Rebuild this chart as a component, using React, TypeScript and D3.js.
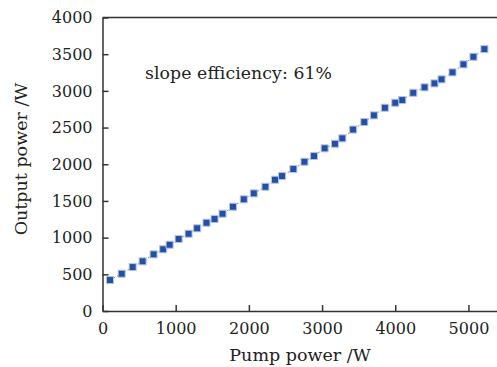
import { useEffect, useRef } from "react";
import * as d3 from "d3";

// Pump power (W) vs output power (W)
const pumpPower = [
  102, 262, 412, 548, 698, 829, 917, 1040, 1176, 1293, 1421, 1531, 1640, 1783,
  1930, 2067, 2226, 2357, 2453, 2608, 2759, 2890, 3035, 3176, 3277, 3424, 3577,
  3708, 3858, 4000, 4096, 4246, 4400, 4536, 4632, 4782, 4932, 5068, 5218,
];
const outputPower = [
  422, 508, 599, 677, 772, 841, 903, 981, 1053, 1127, 1203, 1253, 1326, 1421,
  1522, 1603, 1693, 1789, 1839, 1935, 2034, 2112, 2217, 2279, 2353, 2473, 2575,
  2666, 2770, 2838, 2875, 2974, 3048, 3102, 3157, 3252, 3361, 3465, 3569,
];
const xTicks = [0, 1000, 2000, 3000, 4000, 5000];
const yTicks = [0, 500, 1000, 1500, 2000, 2500, 3000, 3500, 4000];

const W = 497;
const H = 367;
const FONT = "'DejaVu Serif', serif";
const AXIS = "#333";

export default function App() {
  const svgRef = useRef<SVGSVGElement>(null);

  useEffect(() => {
    document.body.style.margin = "0";
    if (!svgRef.current) return;
    const svg = d3.select(svgRef.current);
    svg.selectAll("*").remove();

    const margin = { top: 17.5, right: 0, bottom: 56, left: 102.5 };
    const w = W - margin.left - margin.right;
    const h = H - margin.top - margin.bottom;

    const x = d3.scaleLinear().domain([0, 5390]).range([0, w]);
    const y = d3.scaleLinear().domain([0, 4000]).range([h, 0]);

    const g = svg.append("g").attr("transform", `translate(${margin.left},${margin.top})`);

    // ── Axes (ticks point inward) ──
    const styleAxis = (ag: d3.Selection<SVGGElement, unknown, null, undefined>) => {
      ag.select(".domain").attr("stroke", AXIS).attr("stroke-width", 1.5);
      ag.selectAll(".tick line").attr("stroke", AXIS).attr("stroke-width", 1.5);
      ag.selectAll(".tick text")
        .attr("fill", "#222")
        .attr("font-size", 16)
        .attr("font-family", FONT);
    };

    g.append("g")
      .attr("transform", `translate(0,${h})`)
      .call(
        d3.axisBottom(x).tickValues(xTicks).tickFormat(d3.format("d"))
          .tickSize(-6).tickSizeOuter(0).tickPadding(12)
      )
      .call(styleAxis);

    g.append("g")
      .call(
        d3.axisLeft(y).tickValues(yTicks).tickFormat(d3.format("d"))
          .tickSize(-6).tickSizeOuter(0).tickPadding(10)
      )
      .call(styleAxis);

    // top border
    g.append("line")
      .attr("x1", 0).attr("x2", w)
      .attr("y1", 0).attr("y2", 0)
      .attr("stroke", AXIS).attr("stroke-width", 1.5);

    // ── Data ──
    const pts = pumpPower.map((p, i) => [p, outputPower[i]] as [number, number]);

    g.append("path")
      .datum(pts)
      .attr("fill", "none")
      .attr("stroke", "#8a8a8a")
      .attr("stroke-width", 1)
      .attr("stroke-dasharray", "2,2")
      .attr("d", d3.line().x((d) => x(d[0])).y((d) => y(d[1])));

    const s = 7;
    g.selectAll("rect.pt")
      .data(pts)
      .join("rect")
      .attr("class", "pt")
      .attr("x", (d) => x(d[0]) - s / 2)
      .attr("y", (d) => y(d[1]) - s / 2)
      .attr("width", s)
      .attr("height", s)
      .attr("fill", "#2350a6")
      .attr("stroke", "#b4c2e4")
      .attr("stroke-width", 1);

    // ── Labels ──
    g.append("text")
      .attr("x", 42.5).attr("y", 61.5)
      .attr("fill", "#222")
      .attr("font-size", 17.3)
      .attr("font-family", FONT)
      .attr("textLength", 187)
      .text("slope efficiency: 61%");

    svg.append("text")
      .attr("x", 300).attr("y", 361)
      .attr("text-anchor", "middle")
      .attr("fill", "#222")
      .attr("font-size", 17.5)
      .attr("font-family", FONT)
      .text("Pump power /W");

    svg.append("text")
      .attr("transform", `translate(27,159) rotate(-90)`)
      .attr("text-anchor", "middle")
      .attr("fill", "#222")
      .attr("font-size", 17.5)
      .attr("font-family", FONT)
      .text("Output power /W");
  }, []);

  return <svg ref={svgRef} width={W} height={H} style={{ display: "block", background: "#fff" }} />;
}
